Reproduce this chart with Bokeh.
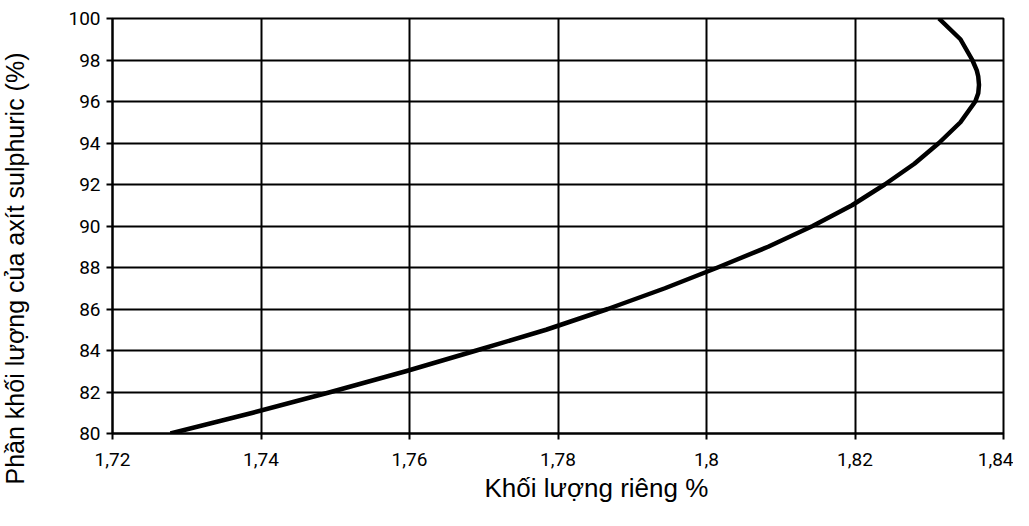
import math
from bokeh.plotting import figure
from bokeh.models import FixedTicker, Title, Range1d
from bokeh.layouts import row
from bokeh.embed import file_html
from bokeh.resources import INLINE

# Data (density vs. mass fraction of sulphuric acid)
density = [1.7278, 1.7389, 1.7494, 1.7595, 1.7690, 1.7784, 1.7867, 1.7944,
           1.8015, 1.8083, 1.8143, 1.8196, 1.8240, 1.8280, 1.8313, 1.8342,
           1.8362, 1.8366, 1.8367, 1.8366, 1.8364, 1.8358, 1.8342, 1.8313]
acid_pct = [80, 81, 82, 83, 84, 85, 86, 87, 88, 89, 90, 91, 92, 93, 94, 95,
            96, 96.4, 96.8, 97.2, 97.5, 98, 99, 100]

x_ticks = [1.72, 1.74, 1.76, 1.78, 1.80, 1.82, 1.84]
x_tick_labels = ["1,72", "1,74", "1,76", "1,78", "1,8", "1,82", "1,84"]
y_ticks = [80, 82, 84, 86, 88, 90, 92, 94, 96, 98, 100]

x_title = "Khối lượng riêng %"
y_title = "Phần khối lượng của axít sulphuric (%)"

H = 510
LEFT_W = 40

# Narrow strip on the left that carries the rotated y-axis title
side = figure(width=LEFT_W, height=H, x_range=Range1d(0, LEFT_W),
              y_range=Range1d(0, H), output_backend="svg",
              toolbar_location=None, min_border=0,
              min_border_left=0, min_border_right=0,
              min_border_top=0, min_border_bottom=0)
side.frame_align = False
side.axis.visible = False
side.grid.visible = False
side.outline_line_color = None
side.background_fill_color = "white"
side.border_fill_color = "white"
side.text(x=[14], y=[242], text=[y_title], angle=math.pi / 2,
          text_align="center", text_baseline="alphabetic",
          text_font={"value": "Liberation Sans"}, text_font_size="25px",
          text_color="black")

p = figure(width=1013 - LEFT_W, height=H, x_range=(1.72, 1.84),
           y_range=(80, 100), output_backend="svg", toolbar_location=None,
           min_border_left=112 - LEFT_W, min_border_right=10,
           min_border_top=18, min_border_bottom=77)
p.frame_align = False

p.background_fill_color = "white"
p.border_fill_color = "white"
p.outline_line_color = "black"
p.outline_line_width = 2

p.xaxis.ticker = FixedTicker(ticks=x_ticks)
p.yaxis.ticker = FixedTicker(ticks=y_ticks)
p.xaxis.major_label_overrides = {t: l for t, l in zip(x_ticks, x_tick_labels)}

for ax in (p.xaxis, p.yaxis):
    ax.axis_line_color = "black"
    ax.axis_line_width = 2
    ax.major_tick_line_color = "black"
    ax.major_tick_line_width = 2
    ax.major_tick_out = 6
    ax.major_tick_in = 0
    ax.minor_tick_line_color = None
    ax.major_label_text_font = "Roboto"
    ax.major_label_text_font_size = "19px"
    ax.major_label_text_color = "black"

p.xaxis.major_label_standoff = 13
p.yaxis.major_label_standoff = 6

p.xgrid.ticker = FixedTicker(ticks=x_ticks)
p.ygrid.ticker = FixedTicker(ticks=y_ticks)
for g in (p.xgrid, p.ygrid):
    g.grid_line_color = "black"
    g.grid_line_width = 2
    g.grid_line_alpha = 1.0

p.line(density, acid_pct, line_color="black", line_width=4.5, line_join="round")

p.add_layout(Title(text=x_title, align="left", offset=372,
                   text_font="Liberation Sans", text_font_size="26px",
                   text_font_style="normal", text_color="black", standoff=5),
             "below")

layout = row(side, p)
open("out.html", "w").write(file_html(layout, INLINE))
